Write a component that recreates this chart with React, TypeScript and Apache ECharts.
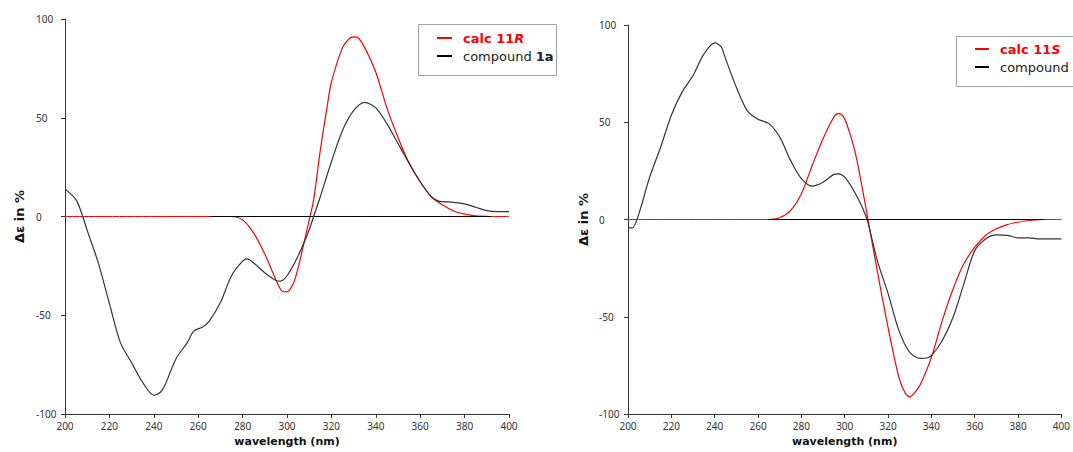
import { useEffect, useRef } from "react";
import * as echarts from "echarts";

// ---- Left panel: compound 1a (experimental) and calc 11R ----
const wl1a = [200, 205, 208, 210, 215, 220, 225, 230, 235, 240, 243, 245, 250, 255, 258, 262, 265, 270, 275, 280, 282, 285, 290, 295, 297, 300, 305, 310, 312, 315, 320, 325, 330, 335, 340, 345, 350, 355, 360, 365, 368, 370, 375, 380, 385, 390, 395, 400];
const de1a = [14, 8.4, 0, -7, -23.5, -44, -64, -74, -84, -90.5, -89, -85.5, -72, -64, -58, -56, -53, -43.6, -30, -22.6, -21.5, -23.5, -28.5, -32.4, -32.7, -30, -20, -6.7, 0, 10, 27.7, 43.6, 53.6, 57.8, 55, 47, 37, 27, 17.6, 10, 7.9, 7.5, 7.2, 6.4, 4.7, 3, 2.5, 2.5];

const wl11R = [265, 275, 280, 285, 290, 295, 298, 300, 303, 305, 308, 310, 312, 315, 318, 320, 325, 328, 330, 332, 335, 340, 345, 350, 355, 360, 365, 370, 375, 380, 385, 392];
const de11R = [0, 0, -1.7, -8.4, -19, -32, -38, -38.2, -33.5, -26, -11.7, -1.7, 8.4, 33.5, 55, 68, 85.5, 90, 90.9, 90.5, 85.5, 73, 55, 40, 27, 17.6, 10, 5.9, 2.8, 1.2, 0.3, 0];

// ---- Right panel: compound 1b (experimental) and calc 11S ----
const wl1b = [200, 202, 205, 210, 215, 220, 225, 230, 235, 240, 243, 245, 250, 255, 260, 265, 270, 275, 280, 285, 290, 295, 297, 300, 305, 310, 312, 315, 320, 325, 330, 335, 338, 340, 345, 350, 355, 360, 365, 370, 375, 380, 385, 390, 400];
const de1b = [-4.3, -4.3, 2.9, 21.8, 37, 53.6, 65.6, 74, 85, 90.8, 88.8, 82.7, 68, 56, 51.5, 49.3, 42.4, 30.4, 21, 17.2, 19.2, 23.2, 23.5, 21.8, 13.2, 1.2, -7.4, -21, -38, -57, -68.3, -71.4, -71.2, -70, -62.3, -50.3, -33, -16, -10, -7.9, -8.2, -9.4, -9.4, -10, -10];

const wl11S = [265, 270, 275, 280, 285, 290, 295, 297, 299, 301, 305, 310, 315, 320, 325, 328, 330, 333, 335, 340, 345, 350, 355, 360, 365, 370, 375, 380, 385, 392];
const de11S = [0, 0.9, 4.6, 13.2, 27.8, 41.5, 52.7, 54.4, 53.5, 49, 33.8, 4.6, -26.3, -55.5, -81.2, -89.5, -91.2, -88, -84.6, -70.9, -52, -35.7, -22.8, -14.2, -8.2, -4.8, -2.6, -1.4, -0.5, 0];

// baselines (zero lines)
const baseFullX = [200, 400];
const baseCalcX = [265, 392];

// axes
const xMin = 200, xMax = 400, xStep = 20;
const yMin = -100, yMax = 100, yStep = 50;
const xTitle = "wavelength (nm)";
const yTitle = "Δε in %";

const RED = "#ff0000";
const DARK = "#333333";
const FONT = "DejaVu Sans";

const pairs = (xs: number[], ys: number[]) => xs.map((x, i) => [x, ys[i]]);
const zeros = (xs: number[]) => xs.map((x) => [x, 0]);

export default function App() {
  const ref = useRef<HTMLDivElement>(null);
  useEffect(() => {
    document.body.style.margin = "0";
    const chart = echarts.init(ref.current!, undefined, { renderer: "svg" });

    const xAxis = (gi: number) => ({
      type: "value" as const,
      gridIndex: gi,
      min: xMin,
      max: xMax,
      interval: xStep,
      axisLine: { show: true, onZero: false, lineStyle: { color: DARK, width: 1 } },
      axisTick: { show: true, length: 4, lineStyle: { color: DARK } },
      axisLabel: { margin: 7, color: DARK, fontFamily: "Noto Sans", fontSize: 10 },
      splitLine: { show: false },
      name: xTitle,
      nameLocation: "middle" as const,
      nameGap: 22,
      nameTextStyle: { fontFamily: FONT, fontWeight: "bold" as const, fontSize: 11, color: "#111" },
    });
    const yAxis = (gi: number, gap: number) => ({
      type: "value" as const,
      gridIndex: gi,
      min: yMin,
      max: yMax,
      interval: yStep,
      axisLine: { show: true, onZero: false, lineStyle: { color: DARK, width: 1 } },
      axisTick: { show: true, length: 4, lineStyle: { color: DARK } },
      axisLabel: { margin: 29, align: "left" as const, color: DARK, fontFamily: "Noto Sans", fontSize: 10 },
      splitLine: { show: false },
      name: yTitle,
      nameLocation: "middle" as const,
      nameGap: gap,
      nameTextStyle: { fontFamily: FONT, fontWeight: "bold" as const, fontSize: 13, color: "#111" },
    });

    const line = (name: string, data: number[][], color: string, gi: number, z: number, width = 1.2) => ({
      type: "line" as const,
      name,
      xAxisIndex: gi,
      yAxisIndex: gi,
      data,
      showSymbol: false,
      symbol: "none",
      smooth: 0.3,
      lineStyle: { color, width },
      itemStyle: { color },
      z,
      silent: true,
    });

    const legend = (bx: number, by: number, bw: number, bh: number, lx1: number, lx2: number, tx: number, r1: number, r2: number, calcLabel: string, calcItalic: string, compLabel: string, compBold: string) => [
      { type: "rect", shape: { x: bx + 0.5, y: by + 0.5, width: bw, height: bh }, style: { fill: "#fff", stroke: "#a0a0a0", lineWidth: 1 }, z: 10 },
      { type: "line", shape: { x1: lx1, y1: r1, x2: lx2, y2: r1 }, style: { stroke: RED, lineWidth: 2 }, z: 11 },
      { type: "line", shape: { x1: lx1, y1: r2, x2: lx2, y2: r2 }, style: { stroke: "#000", lineWidth: 2 }, z: 11 },
      {
        type: "text", x: tx, y: r1, z: 11,
        style: {
          text: `{a|${calcLabel}}{b|${calcItalic}}`,
          verticalAlign: "middle",
          rich: {
            a: { fontFamily: FONT, fontSize: 13, fontWeight: "bold", fill: RED },
            b: { fontFamily: FONT, fontSize: 13, fontWeight: "bold", fontStyle: "italic", fill: RED },
          },
        },
      },
      {
        type: "text", x: tx, y: r2, z: 11,
        style: {
          text: `{a|${compLabel}}{b|${compBold}}`,
          verticalAlign: "middle",
          rich: {
            a: { fontFamily: FONT, fontSize: 13, fill: "#222" },
            b: { fontFamily: FONT, fontSize: 13, fontWeight: "bold", fill: "#222" },
          },
        },
      },
    ];

    chart.setOption({
      animation: false,
      backgroundColor: "#fff",
      grid: [
        { left: 65, top: 19, width: 444, height: 396 },
        { left: 628, top: 25, width: 436, height: 389 },
      ],
      xAxis: [xAxis(0), xAxis(1)],
      yAxis: [yAxis(0, 39), yAxis(1, 38)],
      series: [
        line("zero", zeros(baseFullX), RED, 0, 1, 1),
        line("calc 11R", pairs(wl11R, de11R), RED, 0, 2),
        line("zero-b", zeros(baseCalcX), "#000", 0, 3, 1),
        line("compound 1a", pairs(wl1a, de1a), DARK, 0, 4),
        line("zero", zeros(baseFullX), RED, 1, 1, 1),
        line("calc 11S", pairs(wl11S, de11S), RED, 1, 2),
        line("zero-b", zeros(baseCalcX), "#000", 1, 3, 1),
        line("compound 1b", pairs(wl1b, de1b), DARK, 1, 4),
      ],
      graphic: [
        ...legend(418, 24, 138, 51, 437, 452, 463, 38, 56, "calc 11", "R", "compound ", "1a"),
        ...legend(956, 36, 140, 50, 975, 989, 1000, 49, 67, "calc 11", "S", "compound ", "1b"),
      ],
    });
    return () => chart.dispose();
  }, []);
  return <div ref={ref} style={{ width: 1073, height: 452 }} />;
}
